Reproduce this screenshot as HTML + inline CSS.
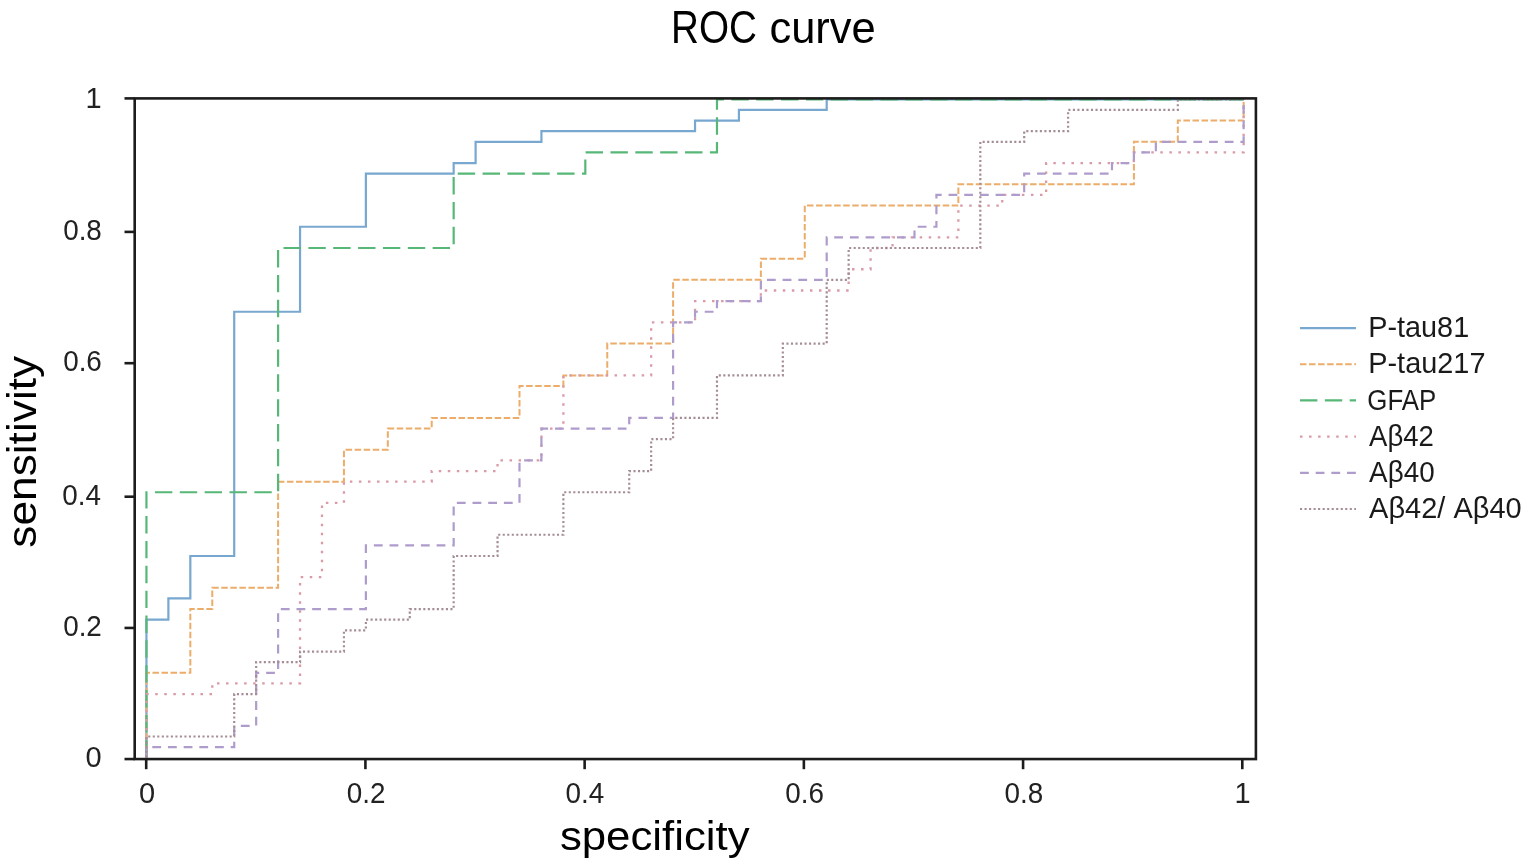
<!DOCTYPE html>
<html><head><meta charset="utf-8"><title>ROC curve</title>
<style>
html,body{margin:0;padding:0;background:#fff;}
body{width:1535px;height:865px;overflow:hidden;}
svg{display:block;}

text{font-family:"Liberation Sans",sans-serif;fill:#111;}
.tk{fill:#222;}
.lg{fill:#1a1a1a;}
.ttl{fill:#000;}
.ax{fill:#000;}
</style></head>
<body>
<div id="wrap"><svg width="1535" height="865" viewBox="0 0 1535 865">
<rect width="1535" height="865" fill="#fff"/>
<text transform="translate(670.97,43.0) scale(0.8320,1)" class="ttl" style="font-size:46.5px">ROC</text><text transform="translate(769.43,42.9) scale(0.9355,0.9350)" class="ttl" style="font-size:46.5px">curve</text>
<g fill="none" stroke-linejoin="miter" stroke-linecap="butt">
<path d="M146.44,757.76 L146.44,619.70 L168.38,619.70 L168.38,598.46 L190.33,598.46 L190.33,555.98 L234.22,555.98 L234.22,311.73 L300.05,311.73 L300.05,226.77 L365.88,226.77 L365.88,173.67 L453.66,173.67 L453.66,163.05 L475.60,163.05 L475.60,141.81 L541.43,141.81 L541.43,131.19 L695.04,131.19 L695.04,120.57 L738.93,120.57 L738.93,109.95 L826.70,109.95 L826.70,99.33 L1243.64,99.33" stroke="#78a7cf" stroke-width="2.2"/>
<path d="M146.44,757.76 L146.44,672.80 L190.33,672.80 L190.33,609.08 L212.27,609.08 L212.27,587.84 L278.10,587.84 L278.10,481.65 L343.94,481.65 L343.94,449.79 L387.82,449.79 L387.82,428.55 L431.71,428.55 L431.71,417.93 L519.49,417.93 L519.49,386.07 L563.38,386.07 L563.38,375.45 L607.26,375.45 L607.26,343.59 L673.10,343.59 L673.10,279.87 L760.87,279.87 L760.87,258.63 L804.76,258.63 L804.76,205.53 L958.37,205.53 L958.37,184.29 L1133.92,184.29 L1133.92,141.81 L1177.81,141.81 L1177.81,120.57 L1243.64,120.57 L1243.64,99.33" stroke="#ecad6a" stroke-width="2.0" stroke-dasharray="6.5 2.547" stroke-dashoffset="8.547"/>
<path d="M146.44,757.76 L146.44,492.26 L278.10,492.26 L278.10,248.01 L453.66,248.01 L453.66,173.67 L585.32,173.67 L585.32,152.43 L716.98,152.43 L716.98,99.33 L1243.64,99.33" stroke="#56b777" stroke-width="2.2" stroke-dasharray="17.4 7.455" stroke-dashoffset="24.255"/>
<path d="M146.44,757.76 L146.44,694.04 L212.27,694.04 L212.27,683.42 L300.05,683.42 L300.05,577.22 L321.99,577.22 L321.99,502.88 L343.94,502.88 L343.94,481.65 L431.71,481.65 L431.71,471.03 L497.54,471.03 L497.54,460.41 L541.43,460.41 L541.43,428.55 L563.38,428.55 L563.38,375.45 L651.15,375.45 L651.15,322.35 L695.04,322.35 L695.04,301.11 L760.87,301.11 L760.87,290.49 L848.65,290.49 L848.65,269.25 L870.59,269.25 L870.59,248.01 L892.54,248.01 L892.54,237.39 L958.37,237.39 L958.37,205.53 L1002.26,205.53 L1002.26,194.91 L1046.14,194.91 L1046.14,163.05 L1133.92,163.05 L1133.92,152.43 L1243.64,152.43 L1243.64,99.33" stroke="#d99ba6" stroke-width="2.3" stroke-dasharray="2.5 6.545" stroke-dashoffset="8.895"/>
<path d="M146.44,757.76 L146.44,747.14 L234.22,747.14 L234.22,725.90 L256.16,725.90 L256.16,672.80 L278.10,672.80 L278.10,609.08 L365.88,609.08 L365.88,545.36 L453.66,545.36 L453.66,502.88 L519.49,502.88 L519.49,460.41 L541.43,460.41 L541.43,428.55 L629.21,428.55 L629.21,417.93 L673.10,417.93 L673.10,322.35 L695.04,322.35 L695.04,311.73 L716.98,311.73 L716.98,301.11 L760.87,301.11 L760.87,279.87 L826.70,279.87 L826.70,237.39 L914.48,237.39 L914.48,226.77 L936.42,226.77 L936.42,194.91 L1024.20,194.91 L1024.20,173.67 L1111.98,173.67 L1111.98,163.05 L1133.92,163.05 L1133.92,152.43 L1155.86,152.43 L1155.86,141.81 L1243.64,141.81 L1243.64,99.33" stroke="#ae9ccc" stroke-width="2.2" stroke-dasharray="8.8 6.88" stroke-dashoffset="14.88"/>
<path d="M146.44,757.76 L146.44,736.52 L234.22,736.52 L234.22,694.04 L256.16,694.04 L256.16,662.18 L300.05,662.18 L300.05,651.56 L343.94,651.56 L343.94,630.32 L365.88,630.32 L365.88,619.70 L409.77,619.70 L409.77,609.08 L453.66,609.08 L453.66,555.98 L497.54,555.98 L497.54,534.74 L563.38,534.74 L563.38,492.26 L629.21,492.26 L629.21,471.03 L651.15,471.03 L651.15,439.17 L673.10,439.17 L673.10,417.93 L716.98,417.93 L716.98,375.45 L782.82,375.45 L782.82,343.59 L826.70,343.59 L826.70,279.87 L848.65,279.87 L848.65,248.01 L980.31,248.01 L980.31,141.81 L1024.20,141.81 L1024.20,131.19 L1068.09,131.19 L1068.09,109.95 L1177.81,109.95 L1177.81,99.33 L1243.64,99.33" stroke="#a58d95" stroke-width="2.2" stroke-dasharray="2.1 2.4225" stroke-dashoffset="4.1225"/>
</g>
<g stroke="#1c1c1c" stroke-width="2.6" fill="none">
<rect x="134.7" y="98.4" width="1121.2" height="660.66"/>
<line x1="146.20" y1="759" x2="146.20" y2="769.2"/>
<line x1="365.42" y1="759" x2="365.42" y2="769.2"/>
<line x1="584.64" y1="759" x2="584.64" y2="769.2"/>
<line x1="803.86" y1="759" x2="803.86" y2="769.2"/>
<line x1="1023.08" y1="759" x2="1023.08" y2="769.2"/>
<line x1="1242.30" y1="759" x2="1242.30" y2="769.2"/>
<line x1="124.5" y1="759.06" x2="134.7" y2="759.06"/>
<line x1="124.5" y1="627.94" x2="134.7" y2="627.94"/>
<line x1="124.5" y1="496.70" x2="134.7" y2="496.70"/>
<line x1="124.5" y1="363.20" x2="134.7" y2="363.20"/>
<line x1="124.5" y1="231.90" x2="134.7" y2="231.90"/>
<line x1="124.5" y1="98.40" x2="134.7" y2="98.40"/>
</g>
<text transform="translate(138.90,803.2) scale(1.0000,1)" class="tk" style="font-size:29px">0</text>
<text transform="translate(346.82,803.2) scale(0.9600,1)" class="tk" style="font-size:29px">0.2</text>
<text transform="translate(565.56,803.2) scale(0.9600,1)" class="tk" style="font-size:29px">0.4</text>
<text transform="translate(785.26,803.2) scale(0.9600,1)" class="tk" style="font-size:29px">0.6</text>
<text transform="translate(1004.48,803.2) scale(0.9600,1)" class="tk" style="font-size:29px">0.8</text>
<text transform="translate(1234.40,803.2) scale(1.0000,1)" class="tk" style="font-size:29px">1</text>
<text transform="translate(85.60,766.8) scale(1.0000,1)" class="tk" style="font-size:29px">0</text>
<text transform="translate(63.16,635.7) scale(0.9600,1)" class="tk" style="font-size:29px">0.2</text>
<text transform="translate(62.20,504.5) scale(0.9600,1)" class="tk" style="font-size:29px">0.4</text>
<text transform="translate(63.16,371.0) scale(0.9600,1)" class="tk" style="font-size:29px">0.6</text>
<text transform="translate(63.16,239.8) scale(0.9600,1)" class="tk" style="font-size:29px">0.8</text>
<text transform="translate(85.60,108.3) scale(1.0000,1)" class="tk" style="font-size:29px">1</text>
<text transform="translate(559.89,849.8) scale(1.0551,1)" class="ax" style="font-size:41.5px">specificity</text>
<text transform="translate(35.7,547.73) rotate(-90) scale(1.0669,1)" class="ax" style="font-size:41.5px">sensitivity</text>
<g fill="none">
<line x1="1300" y1="328.2" x2="1356" y2="328.2" stroke="#78a7cf" stroke-width="2.2"/>
<text transform="translate(1368.25,337.1) scale(0.9770,1)" class="lg" style="font-size:29.5px">P-tau81</text>
<line x1="1300" y1="364.3" x2="1356" y2="364.3" stroke="#ecad6a" stroke-width="2.0" stroke-dasharray="6.5 2.547"/>
<text transform="translate(1368.24,373.4) scale(0.9793,1)" class="lg" style="font-size:29.5px">P-tau217</text>
<line x1="1300" y1="400.4" x2="1356" y2="400.4" stroke="#56b777" stroke-width="2.2" stroke-dasharray="17.4 7.455"/>
<text transform="translate(1367.35,409.6) scale(0.8760,1)" class="lg" style="font-size:29.5px">GFAP</text>
<line x1="1300" y1="436.6" x2="1356" y2="436.6" stroke="#d99ba6" stroke-width="2.3" stroke-dasharray="2.5 6.545"/>
<text transform="translate(1369.10,445.9) scale(0.9338,1)" class="lg" style="font-size:29.5px">Aβ42</text>
<line x1="1300" y1="472.8" x2="1356" y2="472.8" stroke="#ae9ccc" stroke-width="2.2" stroke-dasharray="8.8 6.88"/>
<text transform="translate(1369.10,481.6) scale(0.9441,1)" class="lg" style="font-size:29.5px">Aβ40</text>
<line x1="1300" y1="509.0" x2="1356" y2="509.0" stroke="#a58d95" stroke-width="2.2" stroke-dasharray="2.1 2.4225"/>
<text transform="translate(1369.10,518.0) scale(0.9825,1)" class="lg" style="font-size:29.5px">Aβ42/ Aβ40</text>
</g>
</svg></div>
</body></html>
